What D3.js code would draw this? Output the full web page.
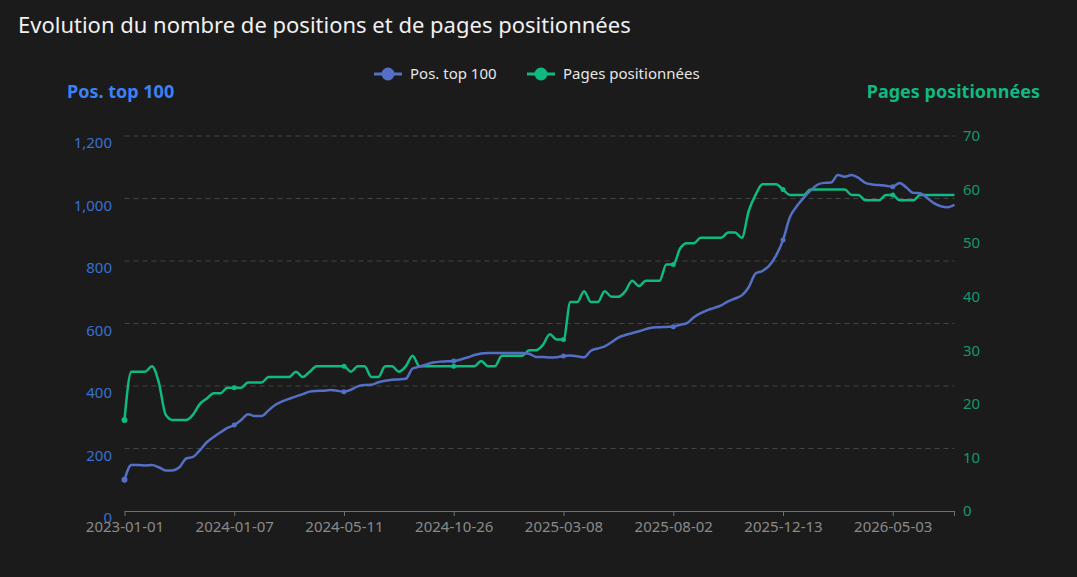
<!DOCTYPE html>
<html>
<head>
<meta charset="utf-8">
<script src="https://cdn.jsdelivr.net/npm/d3@7"></script>
<style>
html,body{margin:0;padding:0;background:#1b1b1b;}
svg{display:block;font-family:"Noto Sans","Open Sans",sans-serif;}
</style>
</head>
<body>
<svg id="chart" width="1077" height="577"></svg>
<script>
const dates = [
"2023-01-01","2023-01-24","2023-02-16","2023-03-11","2023-04-03","2023-04-26","2023-05-19","2023-06-11","2023-07-04","2023-07-27","2023-08-19","2023-09-11","2023-10-04","2023-10-27","2023-11-19","2023-12-14",
"2024-01-07","2024-01-15","2024-01-23","2024-01-31","2024-02-08","2024-02-16","2024-02-24","2024-03-03","2024-03-11","2024-03-19","2024-03-27","2024-04-04","2024-04-12","2024-04-20","2024-04-27","2024-05-04",
"2024-05-11","2024-05-21","2024-06-01","2024-06-11","2024-06-22","2024-07-02","2024-07-13","2024-07-23","2024-08-03","2024-08-13","2024-08-24","2024-09-03","2024-09-14","2024-09-24","2024-10-05","2024-10-15",
"2024-10-26","2024-11-03","2024-11-11","2024-11-20","2024-11-28","2024-12-06","2024-12-15","2024-12-23","2024-12-31","2025-01-08","2025-01-17","2025-01-25","2025-02-02","2025-02-11","2025-02-19","2025-02-27",
"2025-03-08","2025-03-17","2025-03-26","2025-04-05","2025-04-14","2025-04-23","2025-05-02","2025-05-11","2025-05-21","2025-05-30","2025-06-08","2025-06-17","2025-06-26","2025-07-06","2025-07-15","2025-07-24",
"2025-08-02","2025-08-10","2025-08-18","2025-08-27","2025-09-04","2025-09-12","2025-09-21","2025-09-29","2025-10-07","2025-10-16","2025-10-24","2025-11-01","2025-11-09","2025-11-18","2025-11-26","2025-12-04",
"2025-12-13","2025-12-22","2025-12-30","2026-01-08","2026-01-17","2026-01-26","2026-02-03","2026-02-12","2026-02-21","2026-03-02","2026-03-11","2026-03-19","2026-03-28","2026-04-06","2026-04-15","2026-04-24",
"2026-05-03","2026-05-12","2026-05-21","2026-05-30","2026-06-08","2026-06-17","2026-06-26","2026-07-05","2026-07-14","2026-07-23"
];

const positionsTop100 = [
100,147,147,146,147,140,130,130,140,168,173,195,220,237,252,266,
275,291,310,304,304,322,340,351,359,367,374,382,384,385,387,385,
382,388,399,403,404,412,417,420,421,423,456,462,469,475,478,479,
480,485,491,499,504,506,506,506,506,506,506,503,493,493,491,492,
496,498,495,492,513,520,527,540,555,563,569,575,582,587,588,589,
590,596,601,620,633,643,650,658,671,680,690,716,760,768,785,818,
867,940,975,1002,1025,1044,1050,1051,1075,1070,1075,1066,1050,1045,1043,1041,
1038,1050,1035,1018,1017,1002,985,975,972,980
];

const pagesPositionnees = [
17,26,26,26,27,24,18,17,17,17,18,20,21,22,22,23,
23,23,24,24,24,25,25,25,25,26,25,26,27,27,27,27,
27,26,27,27,25,25,27,27,26,27,29,27,27,27,27,27,
27,27,27,27,28,27,27,29,29,29,29,30,30,31,33,32,
32,39,39,41,39,39,41,40,40,41,43,42,43,43,43,46,
46,49,50,50,51,51,51,51,52,52,51,56,59,61,61,61,
60,59,59,59,60,60,60,60,60,60,59,59,58,58,58,59,
59,58,58,58,59,59,59,59,59,59
];

const leftTicks = [0,200,400,600,800,1000,1200];
const rightTicks = [0,10,20,30,40,50,60,70];
const labelEvery = 16;

const titleText = "Evolution du nombre de positions et de pages positionnées";
const seriesNames = ["Pos. top 100","Pages positionnées"];
const colors = {blue:"#5470c6", green:"#10b981", blueAxis:"#3b82f6", greenAxis:"#10b981"};

const svg = d3.select("#chart");
const W = 1077, H = 577;
const m = {left:124.5, right:954.5, top:136, bottom:511};

svg.append("rect").attr("width",W).attr("height",H).attr("fill","#1b1b1b");

const x = d3.scalePoint().domain(dates).range([m.left, m.right]);
const yL = d3.scaleLinear().domain([0,1200]).range([m.bottom, m.top]);
const yR = d3.scaleLinear().domain([0,70]).range([m.bottom, m.top]);

// Title
svg.append("text").attr("x",18).attr("y",33).attr("fill","#f0f0f0")
  .attr("font-size",22).text(titleText);

// Grid lines (left axis)
svg.append("g").selectAll("line").data(leftTicks.filter(d=>d>0)).join("line")
  .attr("x1",m.left).attr("x2",m.right)
  .attr("y1",d=>yL(d)).attr("y2",d=>yL(d))
  .attr("stroke","#444").attr("stroke-width",1).attr("stroke-dasharray","5,4");

// Left axis labels
svg.append("g").selectAll("text").data(leftTicks).join("text")
  .attr("x",112).attr("y",d=>yL(d)+7).attr("dy","0.35em")
  .attr("text-anchor","end").attr("fill",colors.blueAxis).attr("fill-opacity",0.85)
  .attr("font-size",15).text(d=>d3.format(",")(d));

// Right axis labels
svg.append("g").selectAll("text").data(rightTicks).join("text")
  .attr("x",963).attr("y",d=>yR(d)).attr("dy","0.35em")
  .attr("text-anchor","start").attr("fill",colors.greenAxis).attr("fill-opacity",0.8)
  .attr("font-size",15).text(d=>d);

// Axis titles
svg.append("text").attr("x",67).attr("y",92).attr("dy","0.35em")
  .attr("fill",colors.blueAxis).attr("font-weight","bold").attr("font-size",18).text(seriesNames[0]);
svg.append("text").attr("x",1040).attr("y",92).attr("dy","0.35em").attr("text-anchor","end")
  .attr("fill",colors.greenAxis).attr("font-weight","bold").attr("font-size",18).text(seriesNames[1]);

// X axis
const labelIdx = dates.map((d,i)=>i).filter(i=>i%labelEvery===0);
const xAxis = d3.axisBottom(x).tickValues(labelIdx.map(i=>dates[i])).tickSize(5).tickSizeOuter(0);
const gx = svg.append("g").attr("transform",`translate(0,${m.bottom})`).call(xAxis);
gx.select(".domain").attr("stroke","#6e7079");
gx.selectAll(".tick line").attr("stroke","#6e7079");
gx.selectAll(".tick text").attr("fill","#8a8a8a").attr("font-size",15).attr("dy","0.85em")
  .attr("font-family","\"Noto Sans\",sans-serif");
// end tick
gx.append("line").attr("x1",m.right).attr("x2",m.right).attr("y1",0).attr("y2",5).attr("stroke","#6e7079");

// Lines
const lineL = d3.line().x((d,i)=>x(dates[i])).y(d=>yL(d)).curve(d3.curveMonotoneX);
const lineR = d3.line().x((d,i)=>x(dates[i])).y(d=>yR(d)).curve(d3.curveMonotoneX);

svg.append("path").datum(pagesPositionnees).attr("d",lineR)
  .attr("fill","none").attr("stroke",colors.green).attr("stroke-width",2.5).attr("stroke-linejoin","round");
svg.append("path").datum(positionsTop100).attr("d",lineL)
  .attr("fill","none").attr("stroke",colors.blue).attr("stroke-width",2.5).attr("stroke-linejoin","round");

// Symbols at labelled categories
svg.append("g").selectAll("circle").data(labelIdx).join("circle")
  .attr("cx",i=>x(dates[i])).attr("cy",i=>yR(pagesPositionnees[i])).attr("r",i=>i===0?3:2.5)
  .attr("fill",colors.green);
svg.append("g").selectAll("circle").data(labelIdx).join("circle")
  .attr("cx",i=>x(dates[i])).attr("cy",i=>yL(positionsTop100[i])).attr("r",i=>i===0?3:2.5)
  .attr("fill",colors.blue);

// Legend
const legend = [
  {name:seriesNames[0], color:colors.blue, cx:388},
  {name:seriesNames[1], color:colors.green, cx:541}
];
const lg = svg.append("g");
legend.forEach(l=>{
  lg.append("line").attr("x1",l.cx-14).attr("x2",l.cx+14).attr("y1",74).attr("y2",74)
    .attr("stroke",l.color).attr("stroke-width",3);
  lg.append("circle").attr("cx",l.cx).attr("cy",74).attr("r",6.5).attr("fill",l.color);
  lg.append("text").attr("x",l.cx+22).attr("y",74).attr("dy","0.35em")
    .attr("fill","#e6e6e6").attr("font-size",15).text(l.name);
});
</script>
</body>
</html>
